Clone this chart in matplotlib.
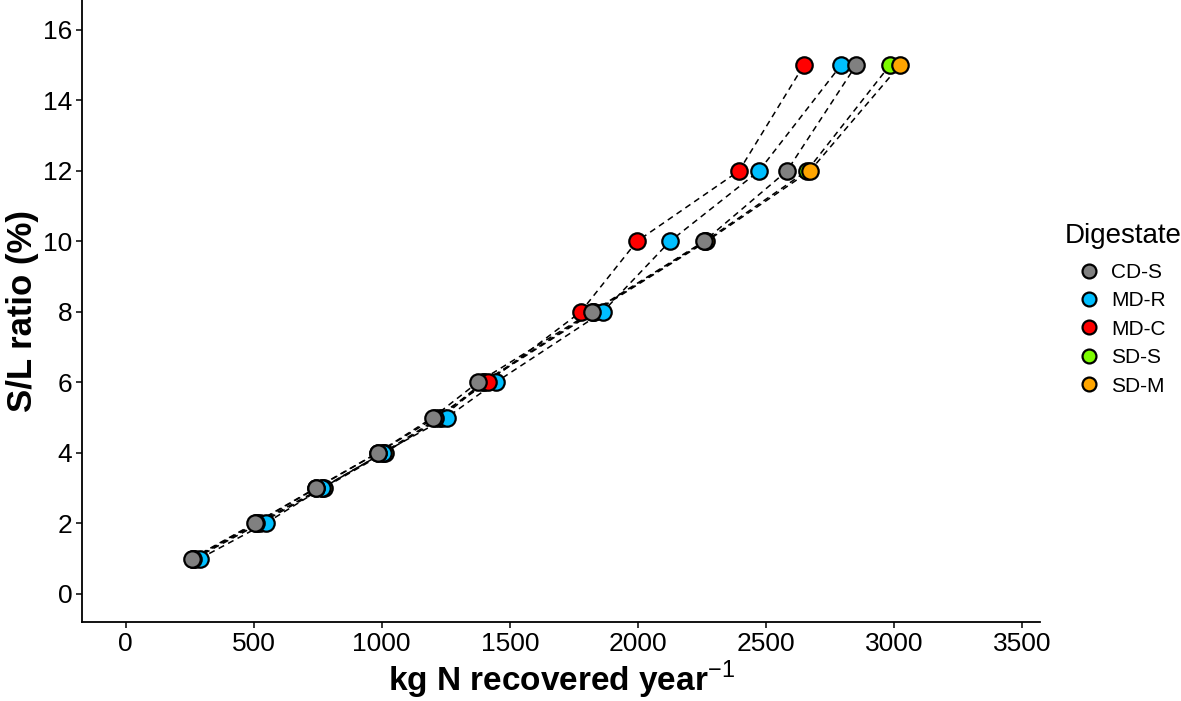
import matplotlib.pyplot as plt
from matplotlib.lines import Line2D

plt.rcParams['font.family'] = ['Liberation Sans', 'DejaVu Sans']
plt.rcParams['mathtext.fontset'] = 'custom'
plt.rcParams['mathtext.rm'] = 'Liberation Sans'
plt.rcParams['mathtext.bf'] = 'Liberation Sans:bold'

# S/L ratio (%) levels
sl_ratio = [1, 2, 3, 4, 5, 6, 8, 10, 12, 15]

# kg N recovered per year
cd_s = [258, 504, 742, 984, 1199, 1375, 1820, 2258, 2582, 2852]
md_r = [290, 547, 768, 1005, 1254, 1445, 1863, 2125, 2473, 2793]
md_c = [262, 508, 745, 985, 1210, 1414, 1777, 1996, 2395, 2648]
sd_s = [265, 515, 765, 1005, 1225, 1395, 1825, 2262, 2660, 2984]
sd_m = [270, 525, 773, 1012, 1234, 1400, 1830, 2268, 2672, 3023]

legend_order = ['CD-S', 'MD-R', 'MD-C', 'SD-S', 'SD-M']
colors = {'CD-S': '#808080', 'MD-R': '#00BFFF', 'MD-C': '#FF0000',
          'SD-S': '#7CFC00', 'SD-M': '#FFA500'}
# drawing order (grey ends up on top)
series = [('SD-S', sd_s), ('SD-M', sd_m), ('MD-R', md_r),
          ('MD-C', md_c), ('CD-S', cd_s)]

fig = plt.figure(figsize=(11.81, 7.01), dpi=100)
ax = fig.add_axes([82 / 1181, 79 / 701, (1040 - 82) / 1181, 622 / 701])

for name, vals in series:
    ax.plot(vals, sl_ratio, color='black', linestyle=(0, (4, 3)), linewidth=1.1, zorder=1)
for name, vals in series:
    ax.scatter(vals, sl_ratio, s=140, color=colors[name], edgecolors='black',
               linewidths=1.6, zorder=2)

ax.set_xlim(-170, 3570)
ax.set_ylim(-0.8, 16.85)
ax.set_xticks(range(0, 3501, 500))
ax.set_yticks(range(0, 17, 2))
for s in ['top', 'right']:
    ax.spines[s].set_visible(False)
for s in ['left', 'bottom']:
    ax.spines[s].set_linewidth(1.3)
ax.tick_params(axis='both', labelsize=19, length=4, width=1.1, colors='black', pad=3)

ax.set_xlabel('kg N recovered year$^{-1}$', fontsize=24, fontweight='bold', labelpad=2)
ax.set_ylabel('S/L ratio (%)', fontsize=25, fontweight='bold', labelpad=3)

handles = [Line2D([], [], marker='o', linestyle='none', markersize=10,
                  markerfacecolor=colors[n], markeredgecolor='black',
                  markeredgewidth=1.6, label=n) for n in legend_order]
fig.text(1065 / 1181, 1 - 236 / 701, 'Digestate', fontsize=20, va='center', ha='left')
leg = fig.legend(handles=handles, loc='upper left',
                 bbox_to_anchor=(1076 / 1181, 1 - 263 / 701), frameon=False,
                 fontsize=15, handletextpad=0.5, borderpad=0.0, borderaxespad=0.0,
                 labelspacing=0.45, handlelength=1.2)

fig.savefig('out.png', dpi=100)
